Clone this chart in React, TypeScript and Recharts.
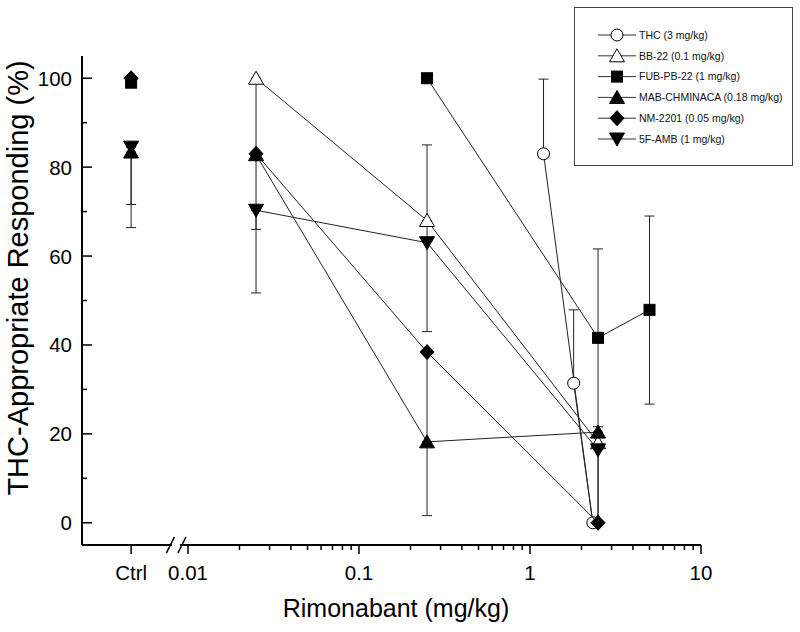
import { ScatterChart, Scatter, XAxis, YAxis, Legend } from 'recharts'

const FONT = '"Liberation Sans", Arial, Helvetica, sans-serif'
const INK = '#000'
const LINE = '#222'

// Rimonabant dose axis (log). "Ctrl" sits left of the axis break.
const CTRL_DOSE = 0.00465
const BREAK_DOSE = 0.0085
const X_MAJOR = [CTRL_DOSE, 0.01, 0.1, 1, 10]
const X_LABELS = ['Ctrl', '0.01', '0.1', '1', '10']
const X_MINOR = [
  0.02, 0.03, 0.04, 0.05, 0.06, 0.07, 0.08, 0.09,
  0.2, 0.3, 0.4, 0.5, 0.6, 0.7, 0.8, 0.9,
  2, 3, 4, 5, 6, 7, 8, 9,
]
const X_TICKS = [...X_MAJOR, ...X_MINOR, BREAK_DOSE]
const Y_TICKS = [0, 10, 20, 30, 40, 50, 60, 70, 80, 90, 100]

// error values are [below, above]
const THC_DOSE = [1.2, 2.33, 1.8]
const THC_MEAN = [83, 0, 31.4]
const THC_ERR = [[0, 16.8], [0, 0], [0, 16.5]]

const BB22_DOSE = [0.025, 0.25, 2.5]
const BB22_MEAN = [100, 68, 18]
const BB22_ERR = [[17, 0], [0, 17], [0, 0]]

const FUB_DOSE = [0.25, 2.5, 5]
const FUB_MEAN = [100, 41.6, 47.9]
const FUB_ERR = [[0, 0], [20, 20], [21.2, 21.1]]

const MAB_DOSE = [0.025, 0.25, 2.5]
const MAB_MEAN = [82.8, 18.2, 20.4]
const MAB_ERR = [[0, 0], [16.6, 0], [20.4, 0]]

const NM_DOSE = [0.025, 0.25, 2.5]
const NM_MEAN = [83, 38.4, 0]
const NM_ERR = [[17, 0], [20.3, 0], [0, 0]]

const AMB_DOSE = [0.025, 0.25, 2.5]
const AMB_MEAN = [70.3, 63, 16.4]
const AMB_ERR = [[18.6, 0], [20, 5], [16.4, 0]]

// vehicle control points (no connecting line)
const CTRL_KEYS = ['fub', 'nm', 'amb', 'mab']
const CTRL_MEAN = [99, 100, 84.5, 83.4]
const CTRL_ERR = [[0, 0], [0, 0], [12.9, 0], [17, 0]]

type Kind = 'circle' | 'up' | 'square' | 'diamond' | 'down'
type Pt = { x: number; y: number; err: number[] }

const pts = (dose: number[], mean: number[], err: number[][]): Pt[] =>
  dose.map((x, i) => ({ x, y: mean[i], err: err[i] }))

const SERIES = [
  { key: 'thc', label: 'THC (3 mg/kg)', kind: 'circle' as Kind, open: true, data: pts(THC_DOSE, THC_MEAN, THC_ERR) },
  { key: 'bb22', label: 'BB-22 (0.1 mg/kg)', kind: 'up' as Kind, open: true, data: pts(BB22_DOSE, BB22_MEAN, BB22_ERR) },
  { key: 'fub', label: 'FUB-PB-22 (1 mg/kg)', kind: 'square' as Kind, open: false, data: pts(FUB_DOSE, FUB_MEAN, FUB_ERR) },
  { key: 'mab', label: 'MAB-CHMINACA (0.18 mg/kg)', kind: 'up' as Kind, open: false, data: pts(MAB_DOSE, MAB_MEAN, MAB_ERR) },
  { key: 'nm', label: 'NM-2201 (0.05 mg/kg)', kind: 'diamond' as Kind, open: false, data: pts(NM_DOSE, NM_MEAN, NM_ERR) },
  { key: 'amb', label: '5F-AMB (1 mg/kg)', kind: 'down' as Kind, open: false, data: pts(AMB_DOSE, AMB_MEAN, AMB_ERR) },
]

const CTRL_POINTS = CTRL_KEYS.map((k, i) => ({
  s: SERIES.find((d) => d.key === k)!,
  pt: { x: CTRL_DOSE, y: CTRL_MEAN[i], err: CTRL_ERR[i] } as Pt,
}))

// error bars as two-point segments, drawn under the markers
const ALL_POINTS: Pt[] = [...CTRL_POINTS.map((c) => c.pt), ...SERIES.flatMap((s) => s.data)]
const ERR_SEGMENTS = ALL_POINTS.filter((p) => p.err[0] + p.err[1] > 0).map((p) => [
  { x: p.x, y: p.y - p.err[0] },
  { x: p.x, y: p.y + p.err[1] },
])

function Marker({ cx, cy, kind, open }: { cx: number; cy: number; kind: Kind; open: boolean }) {
  const st = { fill: open ? '#fff' : '#000', stroke: '#000', strokeWidth: 1 }
  if (kind === 'circle') return <circle cx={cx} cy={cy} r={6} {...st} />
  if (kind === 'square') return <rect x={cx - 5.5} y={cy - 5.5} width={11} height={11} {...st} />
  if (kind === 'diamond')
    return <polygon points={`${cx},${cy - 7.5} ${cx + 7},${cy} ${cx},${cy + 7.5} ${cx - 7},${cy}`} {...st} />
  if (kind === 'up')
    return <polygon points={`${cx},${cy - 7} ${cx + 7.5},${cy + 6} ${cx - 7.5},${cy + 6}`} {...st} />
  return <polygon points={`${cx - 7.5},${cy - 6} ${cx + 7.5},${cy - 6} ${cx},${cy + 7}`} {...st} />
}

const Cap = (p: any) => <line x1={p.cx - 5} x2={p.cx + 5} y1={p.cy} y2={p.cy} stroke={LINE} strokeWidth={1} />

function XTick({ x, y, payload }: any) {
  const v = payload.value
  if (v === BREAK_DOSE) {
    return (
      <g>
        <rect x={x - 4} y={y - 2} width={8} height={4} fill="#fff" />
        <line x1={x - 9.5} y1={y + 8} x2={x - 1.5} y2={y - 8} stroke={INK} strokeWidth={1.6} />
        <line x1={x + 2} y1={y + 8} x2={x + 10} y2={y - 8} stroke={INK} strokeWidth={1.6} />
      </g>
    )
  }
  const i = X_MAJOR.indexOf(v)
  if (i < 0) return <line x1={x} x2={x} y1={y} y2={y + 5} stroke={INK} strokeWidth={1.5} />
  return (
    <g>
      <line x1={x} x2={x} y1={y} y2={y + 9} stroke={INK} strokeWidth={1.5} />
      <text x={x} y={y + 35} textAnchor="middle" fontSize={20.5} fontFamily={FONT} fill={INK}>
        {X_LABELS[i]}
      </text>
    </g>
  )
}

function YTick({ x, y, payload }: any) {
  const major = payload.value % 20 === 0
  return (
    <g>
      <line x1={x} x2={x + (major ? 10 : 5)} y1={y} y2={y} stroke={INK} strokeWidth={1.5} />
      {major && (
        <text x={x - 10} y={y + 7.5} textAnchor="end" fontSize={20.5} fontFamily={FONT} fill={INK}>
          {payload.value}
        </text>
      )}
    </g>
  )
}

const XTitle = () => (
  <text x={396} y={617} textAnchor="middle" fontSize={25} fontFamily={FONT} fill={INK}>
    Rimonabant (mg/kg)
  </text>
)

const YTitle = () => (
  <text transform="translate(28,278) rotate(-90)" textAnchor="middle" fontSize={29} fontFamily={FONT} fill={INK}>
    THC-Appropriate Responding (%)
  </text>
)

function LegendBox() {
  return (
    <svg width={219} height={159} style={{ display: 'block' }}>
      <rect x={0.5} y={0.5} width={218} height={158} fill="#fff" stroke="#444" />
      {SERIES.map((s, i) => {
        const cy = 28 + i * 20.8
        return (
          <g key={s.key}>
            <line x1={24} x2={62} y1={cy} y2={cy} stroke="#333" />
            <Marker cx={43} cy={cy} kind={s.kind} open={s.open} />
            <text x={65} y={cy + 3.8} fontSize={10.5} fontFamily={FONT} fill="#111">
              {s.label}
            </text>
          </g>
        )
      })}
    </svg>
  )
}

export default function App() {
  return (
    <div style={{ position: 'absolute', left: 0, top: 0, width: 800, height: 632, background: '#fff' }}>
      <ScatterChart width={800} height={632} margin={{ top: 56, right: 99, bottom: 0, left: 0 }}>
        <XAxis
          type="number"
          dataKey="x"
          scale="log"
          domain={[0.0024, 10]}
          allowDataOverflow
          ticks={X_TICKS}
          interval={0}
          tick={<XTick />}
          tickLine={false}
          tickSize={0}
          tickMargin={0}
          axisLine={{ stroke: INK, strokeWidth: 2 }}
          height={87}
          label={<XTitle />}
        />
        <YAxis
          type="number"
          dataKey="y"
          domain={[-5, 105]}
          allowDataOverflow
          ticks={Y_TICKS}
          interval={0}
          tick={<YTick />}
          tickLine={false}
          tickSize={0}
          tickMargin={0}
          axisLine={{ stroke: INK, strokeWidth: 2 }}
          width={82}
          label={<YTitle />}
        />
        <Legend
          layout="horizontal"
          verticalAlign="middle"
          align="center"
          content={() => <LegendBox />}
          wrapperStyle={{ left: 574, top: 7, width: 219, height: 159 }}
        />
        {ERR_SEGMENTS.map((seg, i) => (
          <Scatter
            key={'err-' + i}
            data={seg}
            line={{ stroke: LINE, strokeWidth: 1 }}
            legendType="none"
            isAnimationActive={false}
            shape={Cap}
          />
        ))}
        {CTRL_POINTS.map(({ s, pt }) => (
          <Scatter
            key={'ctrl-' + s.key}
            data={[pt]}
            legendType="none"
            isAnimationActive={false}
            shape={(p: any) => <Marker cx={p.cx} cy={p.cy} kind={s.kind} open={s.open} />}
          />
        ))}
        {SERIES.map((s) => (
          <Scatter
            key={s.key}
            name={s.label}
            data={s.data}
            line={{ stroke: LINE, strokeWidth: 1 }}
            lineType="joint"
            isAnimationActive={false}
            shape={(p: any) => <Marker cx={p.cx} cy={p.cy} kind={s.kind} open={s.open} />}
          />
        ))}
      </ScatterChart>
    </div>
  )
}
